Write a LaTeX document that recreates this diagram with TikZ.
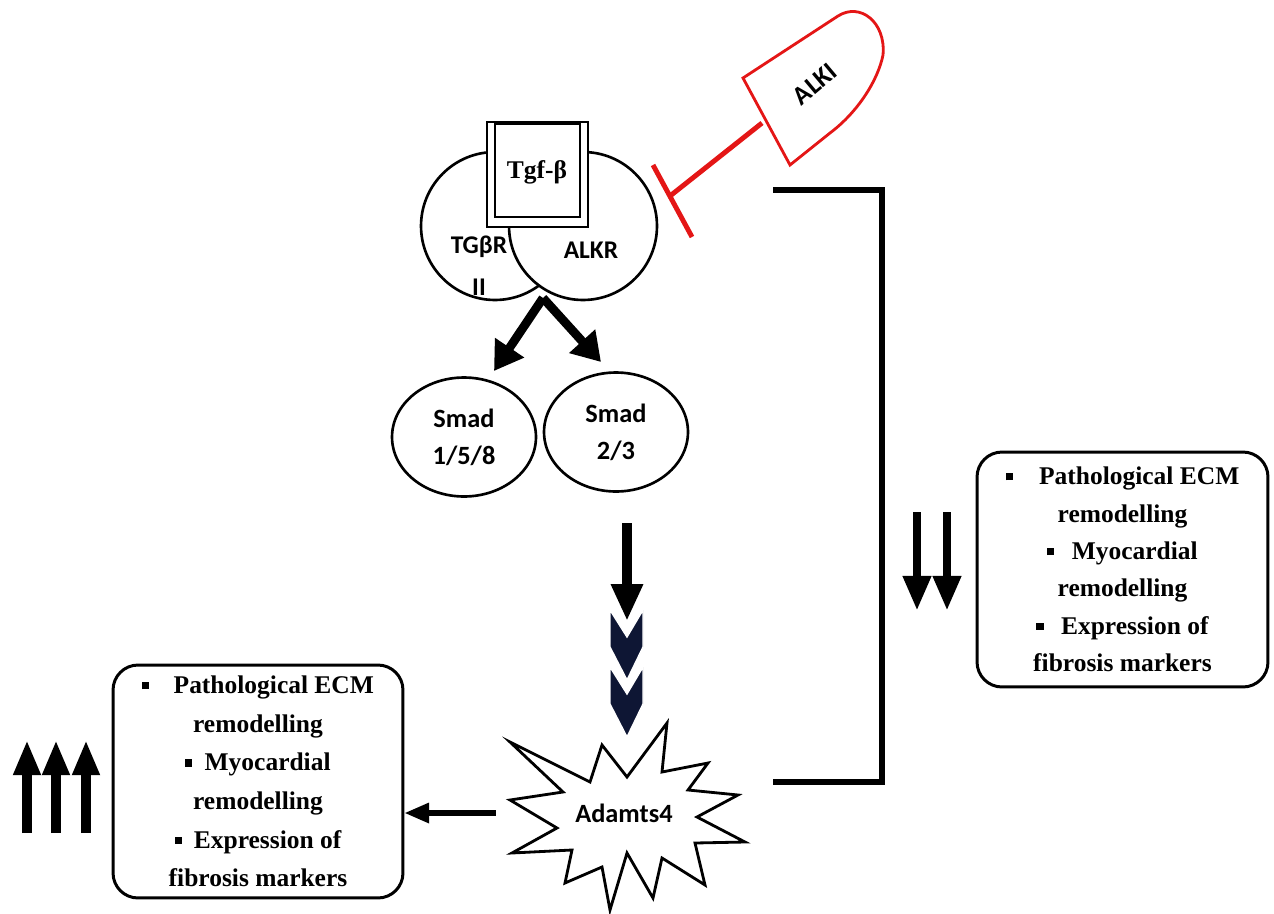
\documentclass[tikz,border=0pt]{standalone}
\usepackage{fontspec}
\setmainfont{Liberation Serif}
\newfontfamily\carl{Carlito}
\usetikzlibrary{arrows.meta,shapes.geometric}
\definecolor{alkired}{RGB}{228,22,22}
\definecolor{chevnavy}{RGB}{14,22,52}
\newcommand{\sqbul}{\raisebox{2.5pt}{\rule{4pt}{4pt}}}
\begin{document}
\begin{tikzpicture}[x=0.02cm,y=-0.02cm,
  receptor/.style={circle,draw,line width=1.5pt,fill=white,minimum size=2.96cm,inner sep=0pt},
  rlabel/.style={font=\carl\bfseries\fontsize{14.5}{16}\selectfont,inner sep=0pt},
  smad/.style={ellipse,draw,line width=1.5pt,minimum width=2.88cm,minimum height=2.38cm,align=center,
     font=\carl\bfseries\fontsize{15}{21}\selectfont,inner sep=0pt},
  effbox/.style={draw,line width=1.7pt,rounded corners=0.5cm,minimum width=5.8cm,minimum height=4.66cm,
     align=center,inner sep=0pt},
  fat/.style={line width=5pt,-{Triangle[length=16pt,width=19pt]}},
  bigdown/.style={line width=5.7pt,-{Triangle[length=21pt,width=17pt]}},
  updown/.style={line width=5.5pt,-{Triangle[length=20pt,width=14.5pt]}},
  leftar/.style={line width=3pt,-{Triangle[length=14pt,width=11pt]}},
  bracket/.style={line width=3.4pt,line join=miter},
  inhib/.style={alkired,line width=2.8pt},
  chev/.style={fill=chevnavy,draw=white,line width=0.8pt}
]
\useasboundingbox (0,0) rectangle (1274,913);

% receptors
\node[receptor] (tgbr) at (495,226) {};
\node[receptor] (alkr) at (583,226) {};
\draw[line width=1.4pt,fill=white] (487,122) rectangle (588,227);
\draw[line width=1.4pt] (495,124) rectangle (580,217);
\node[font=\bfseries\fontsize{14.5}{16}\selectfont,inner sep=0pt] (tgfb) at (537,172) {Tgf-β};
\node[rlabel] (tgbrlab) at (479,247) {TGβR};
\node[rlabel] (iilab) at (479,287) {II};
\node[rlabel] (alkrlab) at (591,250) {ALKR};

% ALKI inhibitor
\draw[alkired,line width=1.6pt,fill=white,line join=miter] (743,78) -- (838,16)
  .. controls (860,2) and (886,22) .. (883,55)
  .. controls (878,80) and (858,112) .. (830,133) -- (790,165) -- cycle;
\node[rotate=40,font=\carl\bfseries\fontsize{15}{17}\selectfont,inner sep=0pt] (alki) at (815,84) {ALKI};
\coordinate (alkiend) at (762,123);
\coordinate (inh) at (670,196);
\coordinate (barA) at (653,165);
\coordinate (barB) at (692,237);
\draw[inhib] (alkiend) -- (inh);
\draw[inhib] (barA) -- (barB);

% receptor to smads
\coordinate (rcpt) at (543,298);
\coordinate (tipA) at (494,371);
\coordinate (tipB) at (601,362);
\draw[fat] (rcpt) -- (tipA);
\draw[fat] (rcpt) -- (tipB);

% smads
\node[smad] (smadA) at (464,437) {Smad\\1/5/8};
\node[smad] (smadB) at (616,432) {Smad\\2/3};

% down arrow and chevrons
\coordinate (dtop) at (627,523);
\coordinate (dtip) at (627,621);
\draw[bigdown] (dtop) -- (dtip);
\draw[chev] (610,667) -- (627,694) -- (643,667) -- (643,704) -- (627,737) -- (610,704) -- cycle;
\draw[chev] (610,610) -- (627,637) -- (643,610) -- (643,647) -- (627,680) -- (610,647) -- cycle;

% Adamts4 starburst
\draw[line width=1.6pt,fill=white,line join=miter] (510,742) -- (590,782) -- (602,745) -- (627,777)
  -- (667,723) -- (662,772) -- (708,763) -- (688,790) -- (738,795) -- (697,817) -- (745,842)
  -- (695,843) -- (705,885) -- (662,858) -- (653,898) -- (627,853) -- (610,910) -- (602,867)
  -- (565,883) -- (572,850) -- (512,853) -- (557,828) -- (510,800) -- (563,792) -- cycle;
\node[font=\carl\bfseries\fontsize{15}{17}\selectfont,minimum width=5.12cm,inner sep=0pt] (adamts) at (624,813) {Adamts4};

% left effect box
\node[effbox,font=\bfseries\fontsize{14.5}{22}\selectfont] (boxL) at (258,781.5)
  {\sqbul\hspace{14pt}Pathological ECM\\ remodelling\\ \sqbul\hspace{7pt}Myocardial\\ remodelling\\
   \sqbul\hspace{7pt}Expression of\\ fibrosis markers};
\draw[leftar] (adamts.west) -- (adamts.west -| boxL.east);

% up arrows
\foreach \i/\xx in {1/27,2/56,3/86}{
  \coordinate (ub\i) at (\xx,833);
  \coordinate (ut\i) at (\xx,740);
  \draw[updown] (ub\i) -- (ut\i);
}

% bracket
\coordinate (brt) at (773,190);
\coordinate (brb) at (773,782);
\draw[bracket] (brt) -- ++(109,0) |- (brb);

% right effect box
\node[effbox,minimum width=5.82cm,minimum height=4.7cm,font=\bfseries\fontsize{14.5}{21.3}\selectfont] (boxR) at (1122.5,569.5)
  {\sqbul\hspace{15pt}Pathological ECM\\ remodelling\\ \sqbul\hspace{10pt}Myocardial\\ remodelling\\
   \sqbul\hspace{10pt}Expression of\\ fibrosis markers};

% down arrows
\foreach \i/\xx in {1/917,2/947}{
  \coordinate (db\i) at (\xx,512);
  \coordinate (dt\i) at (\xx,611);
  \draw[updown,-{Triangle[length=20pt,width=15pt]},line width=5pt] (db\i) -- (dt\i);
}
\end{tikzpicture}
\end{document}
